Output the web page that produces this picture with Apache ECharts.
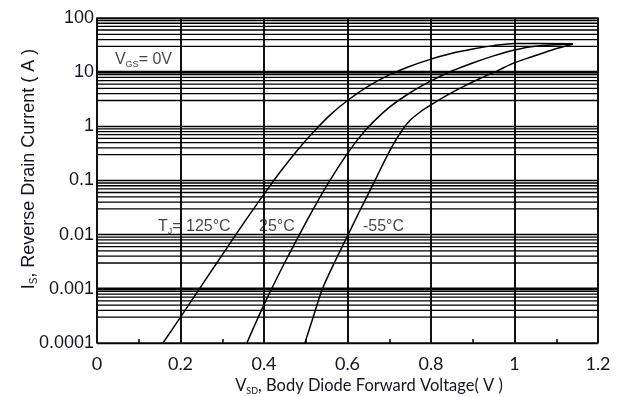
<!DOCTYPE html>
<html>
<head>
<meta charset="utf-8">
<script src="https://cdn.jsdelivr.net/npm/echarts@6/dist/echarts.min.js"></script>
<style>html,body{margin:0;padding:0;background:#fff}#c{width:626px;height:397px}</style>
</head>
<body>
<div id="c"></div>
<script>
// ---- data ----
const xTickLabels = ['0', '0.2', '0.4', '0.6', '0.8', '1', '1.2'];
const yTickLabels = ['0.0001', '0.001', '0.01', '0.1', '1', '10', '100'];
const decadeExponents = [-4, -3, -2, -1, 0, 1];
const minorMultipliers = [3, 4, 5, 6, 7, 8, 9];
const heavyGridValues = [10, 0.001];

const seriesNames = ['125°C', '25°C', '-55°C'];
const v125 = [0.158, 0.20, 0.24, 0.28, 0.32, 0.36, 0.40, 0.44, 0.48, 0.52, 0.56, 0.60, 0.65, 0.70, 0.75, 0.80, 0.85, 0.90, 0.95, 1.00, 1.14];
const i125 = [0.0001, 0.0003, 0.00087, 0.0025, 0.0072, 0.0204, 0.056, 0.148, 0.363, 0.81, 1.66, 3.0, 5.5, 8.9, 12.9, 17.4, 22.4, 26.9, 30.9, 33.9, 33.5];
const v25 = [0.359, 0.38, 0.40, 0.42, 0.45, 0.48, 0.51, 0.54, 0.57, 0.60, 0.63, 0.66, 0.70, 0.75, 0.80, 0.85, 0.90, 0.95, 1.00, 1.05, 1.14];
const i25 = [0.0001, 0.000234, 0.00051, 0.00107, 0.0031, 0.0085, 0.0229, 0.059, 0.141, 0.316, 0.646, 1.17, 2.24, 4.17, 6.9, 10.5, 14.8, 20, 25.7, 30.2, 33.1];
const vm55 = [0.498, 0.52, 0.54, 0.57, 0.60, 0.63, 0.66, 0.69, 0.71, 0.73, 0.75, 0.775, 0.805, 0.84, 0.877, 0.92, 0.96, 0.996, 1.04, 1.09, 1.14];
const im55 = [0.0001, 0.00034, 0.001, 0.0032, 0.0095, 0.0282, 0.081, 0.24, 0.47, 0.83, 1.29, 1.86, 2.63, 3.8, 5.4, 7.8, 10.7, 14.5, 19.1, 25.7, 33.1];

const annX = [0.043, 0.146, 0.388, 0.637];
const annY = [17, 0.014, 0.014, 0.014];
const annText = ['{m|V}{s|GS}{m|= 0V}', '{m|T}{s|J}{m|= 125°C}', '{m|25°C}', '{m|-55°C}'];

// ---- chart ----
const chart = echarts.init(document.getElementById('c'), null, {renderer: 'canvas'});
const ink = '#000';
const textInk = '#15151f';

function hLineData(values) {
  const out = [];
  values.forEach(v => { out.push([0, v]); out.push([1.2, v]); out.push([1.2, null]); });
  return out;
}
const minorValues = [];
decadeExponents.forEach(e => minorMultipliers.forEach(m => minorValues.push(m * Math.pow(10, e))));

const curves = [[v125, i125], [v25, i25], [vm55, im55]].map((pair, k) => ({
  name: seriesNames[k],
  type: 'line',
  data: pair[0].map((x, i) => [x, pair[1][i]]),
  smooth: 0.3,
  showSymbol: false,
  symbol: 'none',
  silent: true,
  lineStyle: {color: ink, width: 1.5},
  z: 5
}));

chart.setOption({
  animation: false,
  backgroundColor: '#fff',
  grid: {left: 97, right: 28, top: 18, bottom: 54, show: true, borderColor: '#222', borderWidth: 1.5, backgroundColor: 'transparent'},
  xAxis: {
    type: 'value', min: 0, max: 1.2, interval: 0.2,
    axisLine: {show: false},
    axisTick: {show: false, inside: true, length: 4},
    minorTick: {show: true, splitNumber: 2, length: 4, lineStyle: {color: ink, width: 1.5}},
    splitLine: {show: true, lineStyle: {color: '#111', width: 2}},
    axisLabel: {
      margin: 12, color: textInk, fontFamily: 'Lato', fontSize: 18,
      formatter: (v) => xTickLabels[Math.round(v / 0.2)]
    }
  },
  yAxis: {
    type: 'log', logBase: 10, min: 0.0001, max: 100,
    axisLine: {show: false},
    axisTick: {show: false},
    splitLine: {show: true, lineStyle: {color: ink, width: 1.3}},
    axisLabel: {
      margin: 3, color: textInk, fontFamily: 'Liberation Sans', fontSize: 18,
      formatter: (v) => yTickLabels[Math.round(Math.log10(v)) + 4]
    }
  },
  graphic: [
    {
      type: 'text', silent: true,
      x: 369, y: 386,
      style: {
        text: '{m|V}{s|SD}{m|, Body Diode Forward Voltage( V )}',
        align: 'center', verticalAlign: 'middle',
        rich: {
          m: {fontFamily: 'Lato', fontSize: 16.5, fill: textInk, lineHeight: 20},
          s: {fontFamily: 'Lato', fontSize: 9, fill: textInk, lineHeight: 20, verticalAlign: 'bottom'}
        }
      }
    },
    {
      type: 'text', silent: true,
      x: 29, y: 169, rotation: Math.PI / 2,
      style: {
        text: '{m|I}{s|S}{m|, Reverse Drain Current ( A )}',
        align: 'center', verticalAlign: 'middle',
        rich: {
          m: {fontFamily: 'Liberation Sans', fontSize: 18, fill: textInk, lineHeight: 20},
          s: {fontFamily: 'Liberation Sans', fontSize: 10, fill: textInk, lineHeight: 20, verticalAlign: 'bottom'}
        }
      }
    }
  ],
  series: [
    {
      name: 'grid-minor',
      type: 'line', silent: true, symbol: 'none', showSymbol: false, connectNulls: false,
      lineStyle: {color: ink, width: 1.3}, z: 1,
      data: hLineData(minorValues)
    },
    {
      name: 'grid-heavy',
      type: 'line', silent: true, symbol: 'none', showSymbol: false, connectNulls: false,
      lineStyle: {color: ink, width: 2.6}, z: 1,
      data: hLineData(heavyGridValues)
    },
    ...curves,
    {
      name: 'annotations',
      type: 'scatter', silent: true, symbolSize: 0, z: 6,
      data: annX.map((x, i) => ({value: [x, annY[i]], label: {formatter: annText[i]}})),
      label: {
        show: true, position: 'right', distance: 0,
        rich: {
          m: {fontFamily: 'Liberation Sans', fontSize: 16, color: textInk, lineHeight: 18},
          s: {fontFamily: 'Liberation Sans', fontSize: 9, color: textInk, lineHeight: 18, verticalAlign: 'bottom'}
        }
      }
    }
  ]
});
</script>
</body>
</html>
